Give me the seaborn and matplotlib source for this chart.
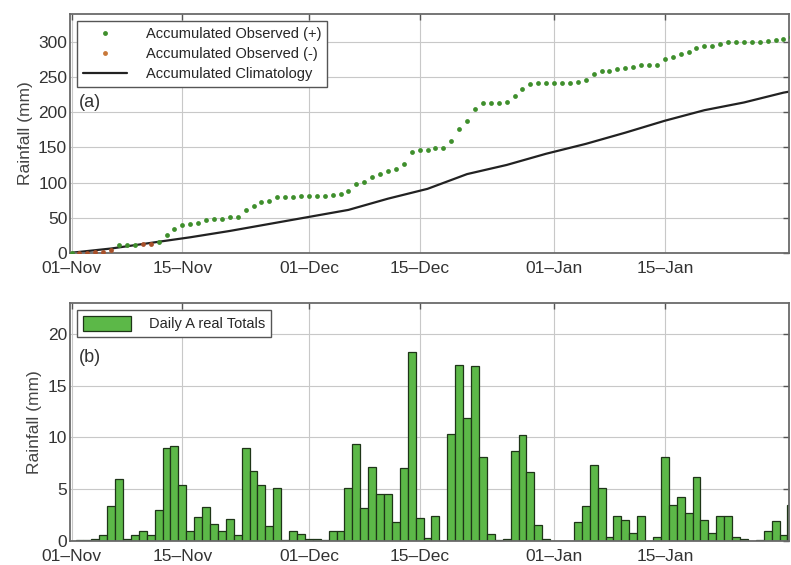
import numpy as np
import pandas as pd
import matplotlib.pyplot as plt
import seaborn as sns
from matplotlib.patches import Patch
from matplotlib.lines import Line2D

# daily areal rainfall totals (mm), day 0 = 01-Nov
daily_rain = [
    0.0, 0.05, 0.1, 0.2, 0.6, 3.4, 6.0, 0.2, 0.6, 1.0,
    0.6, 3.0, 9.0, 9.2, 5.4, 1.0, 2.3, 3.3, 1.6, 1.0,
    2.1, 0.6, 9.0, 6.8, 5.4, 1.4, 5.1, 0.05, 1.0, 0.7,
    0.2, 0.15, 0.1, 1.0, 1.0, 5.1, 9.4, 3.2, 7.1, 4.5,
    4.5, 1.8, 7.05, 18.2, 2.2, 0.25, 2.4, 0.0, 10.3, 17.0,
    11.9, 16.9, 8.1, 0.7, 0.1, 0.2, 8.7, 10.2, 6.7, 1.5,
    0.2, 0.0, 0.0, 0.0, 1.8, 3.4, 7.3, 5.1, 0.4, 2.4,
    2.0, 0.8, 2.4, 0.0, 0.4, 8.1, 3.5, 4.2, 2.7, 6.2,
    2.0, 0.8, 2.4, 2.4, 0.4, 0.2, 0.0, 0.05, 1.0, 1.9,
    0.6, 3.5,
]

# accumulated climatology
clim_days = [0, 5, 10, 15, 20, 25, 30, 35, 40, 45, 50, 55, 60, 65, 70, 75, 80, 85, 90, 91]
clim_mm = [0, 6, 14, 22, 31, 41, 51, 61, 77, 91, 112, 125, 141, 155, 171, 188, 203, 214, 228, 230]

tick_days = [0, 14, 30, 44, 61, 75]
tick_labels = ['01\u2013Nov', '15\u2013Nov', '01\u2013Dec', '15\u2013Dec', '01\u2013Jan', '15\u2013Jan']

days = np.arange(len(daily_rain))
acc = np.cumsum(daily_rain)
below = acc < np.interp(days, clim_days, clim_mm)
df = pd.DataFrame({'day': days, 'rain': daily_rain, 'acc': acc, 'below': below})
clim = pd.DataFrame({'day': clim_days, 'mm': clim_mm})

sns.set_theme(style='whitegrid')
plt.rcParams['font.family'] = ['Liberation Sans', 'DejaVu Sans']

green_dot = '#3f8f2c'
neg_dot = '#a8502a'
bar_green = '#5cb848'

fig = plt.figure(figsize=(7.91, 5.65), dpi=100)
ax1 = fig.add_axes([0.0885, 0.5527, 0.909, 0.4225])
ax2 = fig.add_axes([0.0885, 0.0425, 0.909, 0.4218])

# (a) accumulated
sns.lineplot(data=clim, x='day', y='mm', color='#222222', lw=1.6, ax=ax1, zorder=2)
sns.scatterplot(data=df[~df['below']], x='day', y='acc', color=green_dot, s=12,
                linewidth=0, ax=ax1, zorder=3)
sns.scatterplot(data=df[df['below']], x='day', y='acc', color=neg_dot, s=12,
                linewidth=0, ax=ax1, zorder=3)
ax1.set_ylim(0, 340)
ax1.set_yticks(range(0, 301, 50))

handles = [
    Line2D([], [], ls='none', marker='o', ms=3.5, color=green_dot, mec='none'),
    Line2D([], [], ls='none', marker='o', ms=3.5, color='#c8783a', mec='none'),
    Line2D([], [], color='#222222', lw=1.6),
]
labels = ['Accumulated Observed (+)', 'Accumulated Observed (-)', 'Accumulated Climatology']
ax1.legend(handles, labels, loc='upper left', bbox_to_anchor=(0.0, 1.0), fontsize=10.5,
           handlelength=3.0, handletextpad=1.3, labelspacing=0.4, borderpad=0.4,
           fancybox=False, framealpha=1, edgecolor='#555555', numpoints=1)
ax1.text(0.012, 0.61, '(a)', transform=ax1.transAxes, fontsize=13, color='#333333')

# (b) daily totals
sns.barplot(data=df, x='day', y='rain', native_scale=True, width=1, color=bar_green,
            saturation=1, edgecolor='#1e3518', linewidth=0.9, errorbar=None, ax=ax2)
ax2.set_ylim(0, 23)
ax2.set_yticks(range(0, 21, 5))
ax2.legend([Patch(facecolor=bar_green, edgecolor='#1e3518', lw=0.9)], ['Daily A real Totals'],
           loc='upper left', bbox_to_anchor=(0.0, 1.0), fontsize=10.5, handlelength=3.3,
           handleheight=1.2, handletextpad=1.2, borderpad=0.4, fancybox=False,
           framealpha=1, edgecolor='#555555')
ax2.text(0.012, 0.75, '(b)', transform=ax2.transAxes, fontsize=13, color='#333333')

for ax in (ax1, ax2):
    ax.set_xlim(-0.2, 90.7)
    ax.set_xticks(tick_days)
    ax.set_xticklabels(tick_labels)
    ax.set_xlabel('')
    ax.set_ylabel('Rainfall (mm)', fontsize=12.5, color='#444444', labelpad=4)
    ax.set_axisbelow(True)
    ax.grid(True, color='#c8c8c8', lw=0.8, ls='-')
    ax.set_facecolor('white')
    for sp in ax.spines.values():
        sp.set_color('#6a6a6a')
        sp.set_linewidth(1.3)
    ax.tick_params(direction='in', length=4, width=1, color='#555555', top=True, right=True,
                   labelsize=12.5, labelcolor='#333333')
    ax.tick_params(axis='x', pad=6)
    ax.tick_params(axis='y', pad=2)

fig.savefig('out.png', dpi=100)
